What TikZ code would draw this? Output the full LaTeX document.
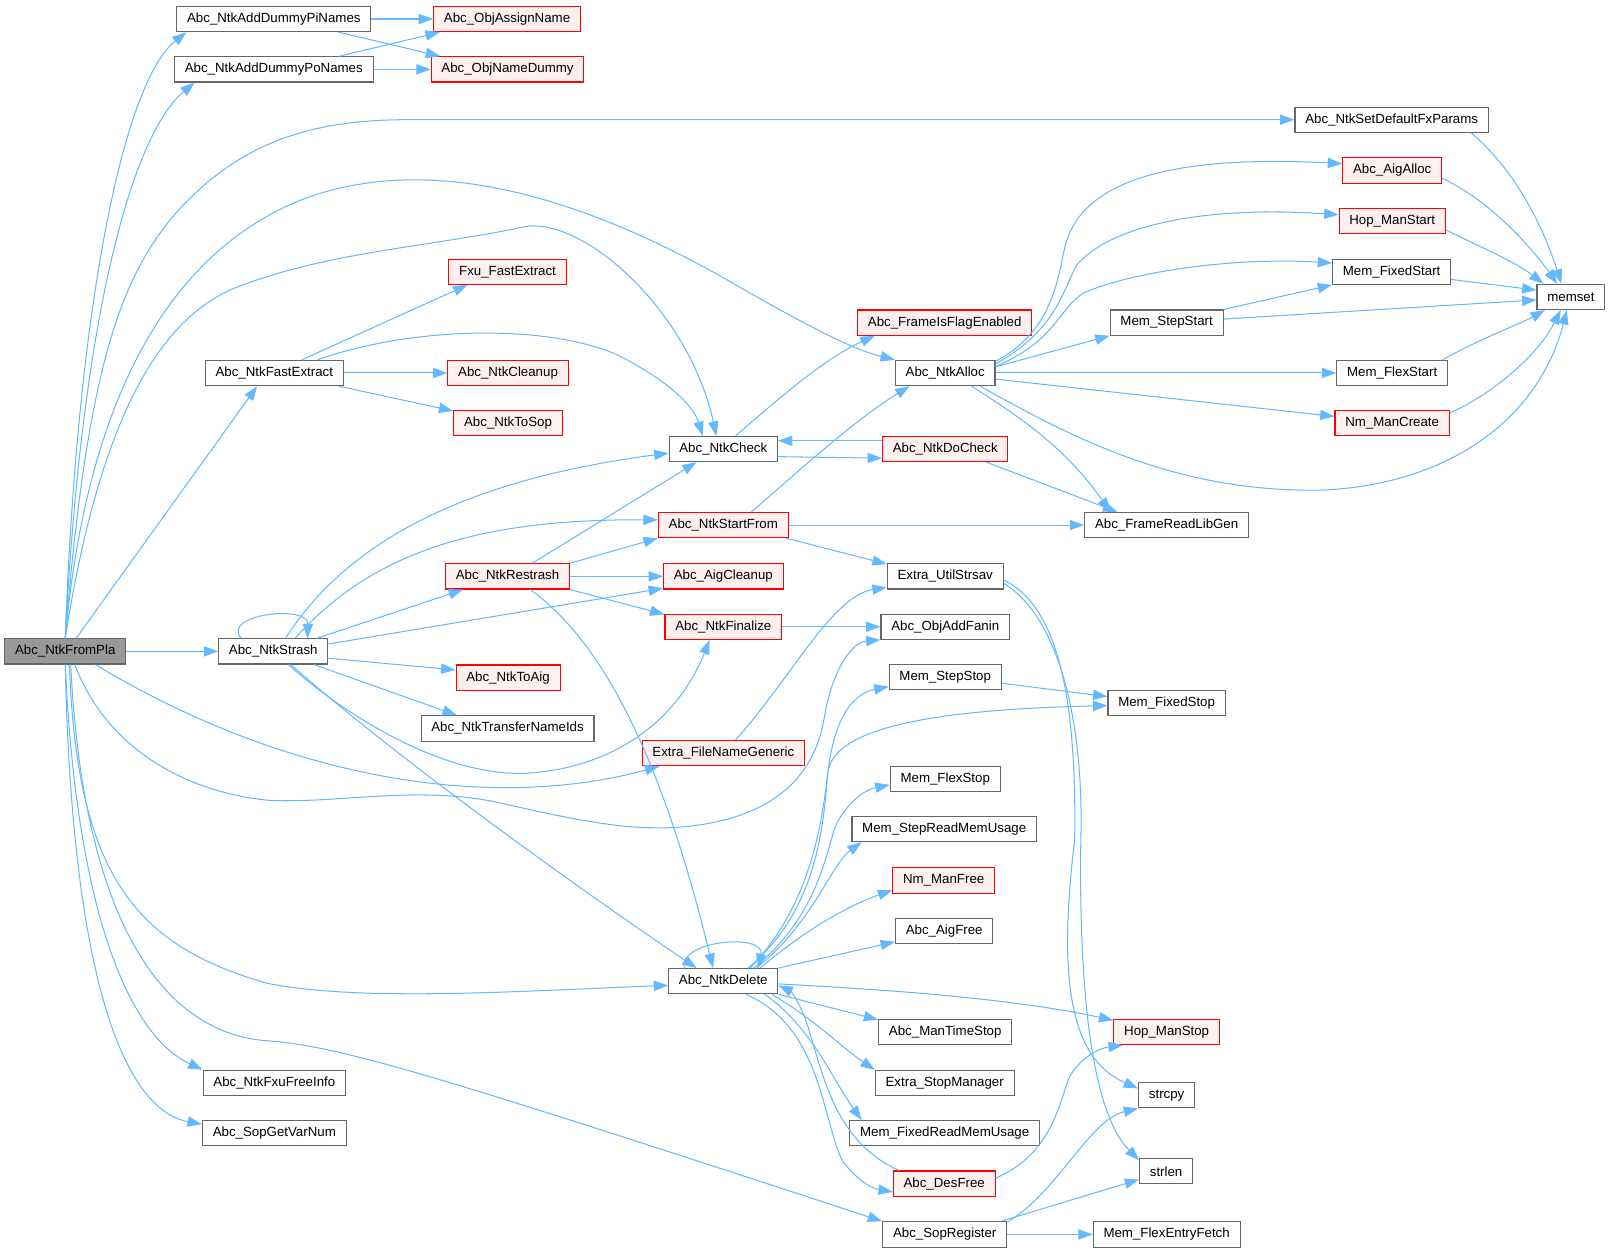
\documentclass[tikz,border=0pt]{standalone}
\usepackage{fontspec}
\setmainfont{Liberation Sans}
\usetikzlibrary{arrows.meta}
\definecolor{edgeblue}{HTML}{63B8FF}
\definecolor{boxgray}{HTML}{666666}
\definecolor{redfill}{HTML}{FFF0F0}
\definecolor{rootfill}{HTML}{999999}
\tikzset{
  fn/.style={draw=boxgray,fill=white,line width=0.8pt,minimum height=18.4pt,
    inner xsep=7.5pt,inner ysep=0pt,font=\fontsize{9.7}{11}\selectfont},
  fnred/.style={fn,draw=red,fill=redfill},
  fnroot/.style={fn,fill=rootfill},
  callarrow/.style={draw=edgeblue,line width=0.75pt,-{Triangle[length=10.5pt,width=7.5pt]}}
}
\begin{document}
\begin{tikzpicture}[x=0.75pt,y=-0.75pt]
\useasboundingbox (0,0) rectangle (1568,1220);

\node[fnroot] (fromPla) at (63.5,634) {Abc\_NtkFromPla};

\node[fn] (piNames) at (266.5,18.5) {Abc\_NtkAddDummyPiNames};
\node[fn] (poNames) at (266.5,67.5) {Abc\_NtkAddDummyPoNames};
\node[fn] (fastExtract) at (267,363) {Abc\_NtkFastExtract};
\node[fn] (strash) at (266,634) {Abc\_NtkStrash};
\node[fn] (fxuFree) at (267,1054) {Abc\_NtkFxuFreeInfo};
\node[fn] (sopVarNum) at (267,1103) {Abc\_SopGetVarNum};

\node[fnred] (assignName) at (493.5,18.5) {Abc\_ObjAssignName};
\node[fnred] (nameDummy) at (494,67.5) {Abc\_ObjNameDummy};
\node[fnred] (fxuFast) at (494,264.5) {Fxu\_FastExtract};
\node[fnred] (cleanup) at (494.5,363) {Abc\_NtkCleanup};
\node[fnred] (toSop) at (494.5,412) {Abc\_NtkToSop};
\node[fnred] (restrash) at (494,561) {Abc\_NtkRestrash};
\node[fnred] (toAig) at (494.5,659.5) {Abc\_NtkToAig};
\node[fn] (transfer) at (494,709) {Abc\_NtkTransferNameIds};

\node[fn] (ntkCheck) at (704,437) {Abc\_NtkCheck};
\node[fnred] (startFrom) at (704,511) {Abc\_NtkStartFrom};
\node[fnred] (aigCleanup) at (704,561) {Abc\_AigCleanup};
\node[fnred] (finalize) at (704,610) {Abc\_NtkFinalize};
\node[fnred] (fileName) at (704,733) {Extra\_FileNameGeneric};
\node[fn] (ntkDelete) at (704,955) {Abc\_NtkDelete};

\node[fnred] (flagEnabled) at (919.5,314) {Abc\_FrameIsFlagEnabled};
\node[fn] (ntkAlloc) at (920,363) {Abc\_NtkAlloc};
\node[fnred] (doCheck) at (920,437) {Abc\_NtkDoCheck};
\node[fn] (strsav) at (920,561) {Extra\_UtilStrsav};
\node[fn] (addFanin) at (920,610) {Abc\_ObjAddFanin};
\node[fn] (stepStop) at (920,659) {Mem\_StepStop};
\node[fn] (flexStop) at (920,758) {Mem\_FlexStop};
\node[fn] (stepRead) at (919,807) {Mem\_StepReadMemUsage};
\node[fnred] (nmFree) at (918.5,857) {Nm\_ManFree};
\node[fn] (aigFree) at (919,906) {Abc\_AigFree};
\node[fn] (timeStop) at (920,1004.5) {Abc\_ManTimeStop};
\node[fn] (stopManager) at (919.5,1054) {Extra\_StopManager};
\node[fn] (fixedRead) at (919.5,1103) {Mem\_FixedReadMemUsage};
\node[fnred] (desFree) at (919,1152) {Abc\_DesFree};
\node[fn] (sopRegister) at (919.5,1201.5) {Abc\_SopRegister};

\node[fn] (stepStart) at (1135.5,314) {Mem\_StepStart};
\node[fn] (libGen) at (1135.5,511) {Abc\_FrameReadLibGen};
\node[fn] (fixedStop) at (1135.5,684) {Mem\_FixedStop};
\node[fnred] (hopStop) at (1135.5,1004.5) {Hop\_ManStop};
\node[fn] (strcpy) at (1135.5,1066) {strcpy};
\node[fn] (strlen) at (1135,1140) {strlen};
\node[fn] (flexFetch) at (1135.5,1201.5) {Mem\_FlexEntryFetch};

\node[fn] (fxParams) at (1354.5,116.5) {Abc\_NtkSetDefaultFxParams};
\node[fnred] (aigAlloc) at (1355,166) {Abc\_AigAlloc};
\node[fnred] (hopStart) at (1355,215) {Hop\_ManStart};
\node[fn] (fixedStart) at (1354.5,264.5) {Mem\_FixedStart};
\node[fn] (flexStart) at (1355,363) {Mem\_FlexStart};
\node[fnred] (nmCreate) at (1355,412) {Nm\_ManCreate};
\node[fn] (memset) at (1529,289) {memset};

\draw[callarrow] (fromPla.north) .. controls (75,300) and (120,80) .. ([xshift=7.5pt]piNames.south west);
\draw[callarrow] (fromPla.north) .. controls (80,300) and (130,130) .. ([xshift=15pt]poNames.south west);
\draw[callarrow] (fromPla.north) .. controls (85,350) and (120,270) .. (168,211)
  .. controls (230,140) and (300,116) .. (400,116.5) -- (fxParams.west);
\draw[callarrow] (fromPla.north) .. controls (85,380) and (170,240) .. (300,192)
  .. controls (420,150) and (560,190) .. (700,268) .. controls (790,320) and (830,340) .. (ntkAlloc.north west);
\draw[callarrow] (fromPla.north) .. controls (95,420) and (150,310) .. (232,279)
  .. controls (320,245) and (420,240) .. (509,221) .. controls (565,209) and (670,300) .. ([xshift=-5pt]ntkCheck.north);
\draw[callarrow] ([xshift=8pt]fromPla.north) -- ([xshift=-12.5pt]fastExtract.south);
\draw[callarrow] (fromPla.east) -- (strash.west);
\draw[callarrow] ([xshift=22pt]fromPla.south) .. controls (280,760) and (480,790) .. ([xshift=13pt]fileName.south west);
\draw[callarrow] ([xshift=7pt]fromPla.south) .. controls (100,720) and (170,770) .. (262,779)
  .. controls (330,782) and (400,765) .. (480,780) .. controls (560,798) and (620,812) .. (680,803)
  .. controls (770,790) and (795,740) .. (802,700) .. controls (810,650) and (830,625) .. (addFanin.south west);
\draw[callarrow] ([xshift=3pt]fromPla.south) .. controls (75,850) and (130,920) .. (260,957)
  .. controls (350,975) and (500,965) .. ([yshift=-3pt]ntkDelete.west);
\draw[callarrow] (fromPla.south) .. controls (75,900) and (130,1010) .. (fxuFree.north west);
\draw[callarrow] (fromPla.south) .. controls (70,950) and (120,1080) .. ([yshift=-3pt]sopVarNum.north west);
\draw[callarrow] ([xshift=4pt]fromPla.south) .. controls (80,880) and (150,1005) .. (260,1013)
  .. controls (330,1018) and (420,1045) .. (sopRegister.north west);

\draw[callarrow] (piNames.east) -- (assignName.west);
\draw[callarrow] ([xshift=-24pt]piNames.south east) -- ([xshift=7pt]nameDummy.north west);
\draw[callarrow] ([xshift=-25pt]poNames.north east) -- ([xshift=5pt]assignName.south west);
\draw[callarrow] (poNames.east) -- (nameDummy.west);

\draw[callarrow] ([xshift=-13pt]fxParams.south east) .. controls (1480,170) and (1505,230) .. ([xshift=-7pt]memset.north);
\draw[callarrow] ([yshift=4pt]aigAlloc.south east) .. controls (1450,195) and (1490,240) .. ([xshift=-10pt]memset.north);
\draw[callarrow] ([yshift=3pt]hopStart.south east) .. controls (1440,240) and (1475,255) .. ([xshift=-20pt]memset.north);
\draw[callarrow] ([yshift=4pt]fixedStart.south east) -- ([yshift=5pt]memset.west);
\draw[callarrow] ([yshift=2.6pt]stepStart.east) -- ([yshift=-2.2pt]memset.west);
\draw[callarrow] (stepStart.north east) -- (fixedStart.south west);
\draw[callarrow] ([xshift=-4pt]flexStart.north east) .. controls (1440,330) and (1480,315) .. ([xshift=-19pt]memset.south);
\draw[callarrow] ([yshift=7.5pt]nmCreate.east) .. controls (1460,380) and (1500,340) .. ([xshift=-7.5pt]memset.south);

\draw[callarrow] ([xshift=25.5pt]ntkAlloc.south) .. controls (1050,430) and (1150,480) .. (1289,477)
  .. controls (1420,470) and (1500,400) .. ([xshift=-3pt]memset.south);
\draw[callarrow] ([yshift=-1pt]ntkAlloc.north east) .. controls (1030,320) and (1030,260) .. (1038,235)
  .. controls (1055,180) and (1130,150) .. ([yshift=5pt]aigAlloc.west);
\draw[callarrow] ([yshift=-3pt]ntkAlloc.north east) .. controls (1030,320) and (1035,280) .. (1048,258)
  .. controls (1080,220) and (1170,200) .. ([yshift=4.5pt]hopStart.west);
\draw[callarrow] ([yshift=-5pt]ntkAlloc.north east) .. controls (1030,330) and (1030,300) .. (1055,285)
  .. controls (1100,265) and (1200,250) .. ([yshift=6.4pt]fixedStart.west);
\draw[callarrow] ([yshift=4.5pt]ntkAlloc.east) -- (stepStart.south west);
\draw[callarrow] (ntkAlloc.east) -- (flexStart.west);
\draw[callarrow] ([yshift=-4.5pt]ntkAlloc.east) -- ([yshift=5pt]nmCreate.west);
\draw[callarrow] ([xshift=19pt]ntkAlloc.south) .. controls (1000,410) and (1040,440) .. ([xshift=-41pt]libGen.north);

\draw[callarrow] ([yshift=-5.6pt]ntkCheck.east) -- ([yshift=-6.7pt]doCheck.west);
\draw[callarrow] ([yshift=6pt]doCheck.west) -- ([yshift=6pt]ntkCheck.east);
\draw[callarrow] ([xshift=30pt]doCheck.south) -- ([xshift=-36pt]libGen.north);
\draw[callarrow] ([xshift=9pt]ntkCheck.north) .. controls (750,395) and (800,350) .. ([xshift=13pt]flagEnabled.south west);

\draw[callarrow] ([xshift=20pt]fastExtract.north) -- ([xshift=14pt]fxuFast.south west);
\draw[callarrow] (fastExtract.east) -- (cleanup.west);
\draw[callarrow] ([xshift=-4pt]fastExtract.south east) -- ([yshift=9pt]toSop.west);
\draw[callarrow] ([xshift=31.5pt]fastExtract.north) .. controls (400,318) and (530,315) .. (600,345)
  .. controls (650,370) and (675,395) .. ([xshift=-15pt]ntkCheck.north);

\draw[callarrow] ([xshift=-23.5pt]strash.north) .. controls (215,598) and (300,588) .. ([xshift=25pt]strash.north);
\draw[callarrow] ([xshift=32pt]strash.north) -- ([xshift=-32.5pt]restrash.south);
\draw[callarrow] ([yshift=5.4pt]strash.east) -- ([yshift=-8.7pt]aigCleanup.west);
\draw[callarrow] ([yshift=-5pt]strash.east) -- ([yshift=5.6pt]toAig.west);
\draw[callarrow] ([xshift=29.5pt]strash.south) -- ([xshift=-37pt]transfer.north);
\draw[callarrow] ([xshift=9pt]strash.north) .. controls (330,540) and (430,470) .. ([yshift=-3pt]ntkCheck.west);
\draw[callarrow] ([xshift=16pt]strash.north) .. controls (360,540) and (460,505) .. ([yshift=3.75pt]startFrom.west);
\draw[callarrow] ([xshift=11pt]strash.south) .. controls (340,700) and (440,760) .. (520,752)
  .. controls (600,745) and (660,700) .. ([xshift=-10pt]finalize.south);
\draw[callarrow] ([xshift=12.75pt]strash.south) .. controls (400,750) and (600,890) .. ([xshift=-19.5pt]ntkDelete.north);

\draw[callarrow] ([xshift=18pt]restrash.north) -- ([xshift=-19.5pt]ntkCheck.south);
\draw[callarrow] (restrash.north east) -- (startFrom.south west);
\draw[callarrow] (restrash.east) -- (aigCleanup.west);
\draw[callarrow] (restrash.south east) -- ([yshift=9pt]finalize.west);
\draw[callarrow] ([xshift=16.5pt]restrash.south) .. controls (580,620) and (640,720) .. ([xshift=-7.5pt]ntkDelete.north);

\draw[callarrow] ([xshift=20.6pt]startFrom.north) .. controls (770,465) and (830,410) .. ([xshift=-26pt]ntkAlloc.south);
\draw[callarrow] (startFrom.east) -- (libGen.west);
\draw[callarrow] ([xshift=-2pt]startFrom.south east) -- ([yshift=9pt]strsav.west);
\draw[callarrow] (finalize.east) -- (addFanin.west);
\draw[callarrow] ([xshift=9pt]fileName.north) .. controls (770,660) and (810,580) .. ([yshift=-8pt]strsav.west);

\draw[callarrow] ([yshift=-2.6pt]strsav.east) .. controls (1030,590) and (1048,680) .. (1046,817)
  .. controls (1030,950) and (1040,1030) .. ([yshift=5pt]strcpy.west);
\draw[callarrow] ([yshift=-5pt]strsav.east) .. controls (1030,600) and (1055,700) .. (1052,817)
  .. controls (1050,950) and (1060,1080) .. ([yshift=8pt]strlen.west);
\draw[callarrow] ([yshift=-4.5pt]stepStop.east) -- ([yshift=4.5pt]fixedStop.west);

\draw[callarrow] ([xshift=-28.5pt]ntkDelete.north) .. controls (660,915) and (745,908) .. ([xshift=25.5pt]ntkDelete.north);
\draw[callarrow] ([xshift=18pt]ntkDelete.north) .. controls (790,890) and (800,820) .. (805,760)
  .. controls (810,700) and (830,675) .. ([yshift=-7pt]stepStop.west);
\draw[callarrow] ([xshift=19.5pt]ntkDelete.north) .. controls (790,880) and (800,800) .. (806,750)
  .. controls (815,700) and (950,690) .. ([yshift=-2pt]fixedStop.west);
\draw[callarrow] ([xshift=22pt]ntkDelete.north) .. controls (800,890) and (805,820) .. (815,800)
  .. controls (830,775) and (845,768) .. ([yshift=-4.5pt]flexStop.west);
\draw[callarrow] ([xshift=24pt]ntkDelete.north) .. controls (790,900) and (810,840) .. ([xshift=7.5pt]stepRead.south west);
\draw[callarrow] ([xshift=27pt]ntkDelete.north) .. controls (790,900) and (830,880) .. ([yshift=-7pt]nmFree.west);
\draw[callarrow] (ntkDelete.north east) -- ([yshift=-8pt]aigFree.west);
\draw[callarrow] ([yshift=-2pt]ntkDelete.east) .. controls (900,965) and (1000,975) .. ([yshift=8.6pt]hopStop.west);
\draw[callarrow] (ntkDelete.south east) -- ([yshift=9pt]timeStop.west);
\draw[callarrow] ([xshift=-5pt]ntkDelete.south east) .. controls (790,990) and (820,1020) .. ([yshift=9.5pt]stopManager.west);
\draw[callarrow] ([xshift=-10pt]ntkDelete.south east) .. controls (790,1000) and (810,1050) .. ([xshift=9pt]fixedRead.north west);
\draw[callarrow] ([xshift=16.5pt]ntkDelete.south) .. controls (800,1000) and (800,1090) .. (820,1130)
  .. controls (835,1150) and (850,1157) .. ([yshift=-6pt]desFree.west);
\draw[callarrow] ([xshift=4.5pt]desFree.north west) .. controls (810,1110) and (800,1040) .. (785,995)
  .. controls (778,975) and (770,965) .. ([yshift=-3pt]ntkDelete.east);
\draw[callarrow] ([yshift=4pt]desFree.east) .. controls (1020,1125) and (1030,1080) .. (1040,1050)
  .. controls (1050,1030) and (1070,1020) .. ([xshift=7pt]hopStop.south west);

\draw[callarrow] ([yshift=9pt]sopRegister.east) .. controls (1030,1160) and (1060,1090) .. (strcpy.south west);
\draw[callarrow] ([xshift=-4.7pt]sopRegister.north east) -- ([yshift=-6pt]strlen.west);
\draw[callarrow] (sopRegister.east) -- (flexFetch.west);
\end{tikzpicture}
\end{document}
